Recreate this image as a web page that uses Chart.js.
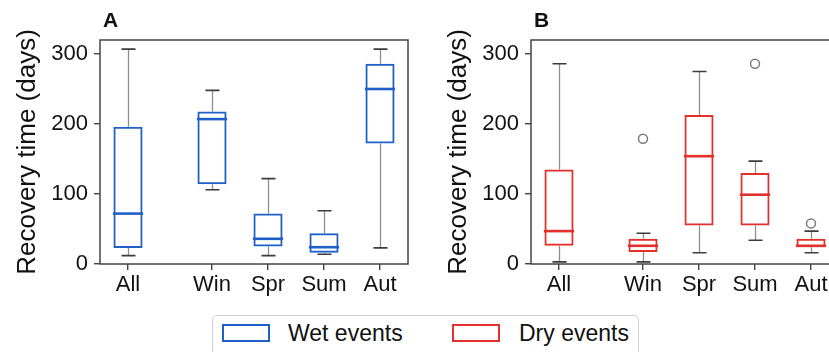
<!DOCTYPE html>
<html><head><meta charset="utf-8">
<script src="https://cdn.jsdelivr.net/npm/chart.js@4.4.0/dist/chart.umd.min.js"></script>
<style>
html,body{margin:0;padding:0;width:829px;height:352px;overflow:hidden;background:#fff;font-family:"Liberation Sans",Arial,sans-serif;}
.wrap{position:absolute;top:0;width:420px;height:300px;}
#wrapA{left:0;}
#wrapB{left:431px;}
.letter{position:absolute;top:8px;font-weight:bold;font-size:21px;color:#111;}
#legend{position:absolute;left:212px;top:315px;width:427px;height:50px;border:1px solid #cfcfcf;border-radius:5px;box-sizing:border-box;}
.sw{position:absolute;top:8px;width:48px;height:18px;box-sizing:border-box;border:2px solid;}
.lt{position:absolute;top:4px;font-size:23px;color:#111;line-height:26px;}
</style></head>
<body>
<div class="wrap" id="wrapA"><canvas id="cA" width="420" height="300"></canvas></div>
<div class="wrap" id="wrapB"><canvas id="cB" width="420" height="300"></canvas></div>
<div class="letter" style="left:103px;">A</div>
<div class="letter" style="left:534px;">B</div>
<div id="legend">
  <div class="sw" style="left:9px;border-color:#1f5fc8;"></div>
  <div class="lt" style="left:75px;">Wet events</div>
  <div class="sw" style="left:239px;border-color:#e2312a;"></div>
  <div class="lt" style="left:306px;">Dry events</div>
</div>
<script>
// ---- data ----
const categories = ['All', 'Win', 'Spr', 'Sum', 'Aut'];
const yTicks = [0, 100, 200, 300];

const wetWhiskerLow  = [12, 106, 12, 14, 23];
const wetQ1          = [23, 114, 25, 16, 172];
const wetMedian      = [72, 207, 36, 24, 250];
const wetQ3          = [196, 218, 72, 44, 286];
const wetWhiskerHigh = [307, 248, 122, 76, 307];
const wetOutliers    = [[], [], [], [], []];

const dryWhiskerLow  = [3, 3, 16, 34, 16];
const dryQ1          = [26, 17, 55, 55, 24];
const dryMedian      = [47, 26, 154, 99, 26];
const dryQ3          = [135, 36, 213, 130, 36];
const dryWhiskerHigh = [286, 44, 275, 147, 47];
const dryOutliers    = [[], [179], [], [286], [58]];

// ---- layout (slot positions on the x axis, with a gap after "All") ----
const xSlots = [0, 1.5, 2.5, 3.5, 4.5];

Chart.defaults.font.family = '"Liberation Sans", Arial, sans-serif';
Chart.defaults.color = '#111';

function makeChart(id, color, low, q1, med, q3, high, outl) {
  const boxData = xSlots.map((x, i) => ({x: x, y: [q1[i], q3[i]]}));
  const outData = [];
  outl.forEach((arr, i) => arr.forEach(v => outData.push({x: xSlots[i], y: v})));

  const boxPlugin = {
    id: 'boxparts',
    beforeDatasetsDraw(chart) {
      const ctx = chart.ctx, xs = chart.scales.x, ys = chart.scales.y;
      ctx.save();
      xSlots.forEach((xv, i) => {
        const px = Math.round(xs.getPixelForValue(xv)) + 0.5;
        const capHalf = xs.getPixelForValue(xv + 0.125) - xs.getPixelForValue(xv);
        ctx.strokeStyle = '#8e8e8e'; ctx.lineWidth = 1.3;
        ctx.beginPath();
        ctx.moveTo(px, ys.getPixelForValue(q3[i])); ctx.lineTo(px, ys.getPixelForValue(high[i]));
        ctx.moveTo(px, ys.getPixelForValue(q1[i])); ctx.lineTo(px, ys.getPixelForValue(low[i]));
        ctx.stroke();
        ctx.strokeStyle = '#3c3c3c'; ctx.lineWidth = 1.6;
        ctx.beginPath();
        const yh = ys.getPixelForValue(high[i]), yl = ys.getPixelForValue(low[i]);
        ctx.moveTo(px - capHalf, yh); ctx.lineTo(px + capHalf, yh);
        ctx.moveTo(px - capHalf, yl); ctx.lineTo(px + capHalf, yl);
        ctx.stroke();
      });
      ctx.restore();
    },
    afterDatasetsDraw(chart) {
      const ctx = chart.ctx, xs = chart.scales.x, ys = chart.scales.y;
      ctx.save();
      xSlots.forEach((xv, i) => {
        const px = xs.getPixelForValue(xv);
        const half = xs.getPixelForValue(xv + 0.27) - px;
        const ym = ys.getPixelForValue(med[i]);
        ctx.strokeStyle = color; ctx.lineWidth = 2.6;
        ctx.beginPath(); ctx.moveTo(px - half, ym); ctx.lineTo(px + half, ym); ctx.stroke();
      });
      const a = chart.chartArea;
      ctx.strokeStyle = '#444'; ctx.lineWidth = 1.5;
      ctx.strokeRect(a.left, a.top, a.right - a.left, a.bottom - a.top);
      ctx.restore();
    }
  };

  return new Chart(document.getElementById(id), {
    type: 'bar',
    data: {
      datasets: [
        {
          type: 'bar', data: boxData, backgroundColor: 'rgba(0,0,0,0)',
          borderColor: color, borderWidth: 2, borderSkipped: false,
          categoryPercentage: 1.0, barPercentage: 0.52, grouped: false
        },
        {
          type: 'scatter', data: outData, pointStyle: 'circle', pointRadius: 4.5,
          backgroundColor: 'rgba(0,0,0,0)', borderColor: '#7a7a7a', borderWidth: 1.5
        }
      ]
    },
    options: {
      responsive: false, animation: false,
      layout: {padding: {top: 40, right: 12, left: 0, bottom: 0}},
      plugins: {legend: {display: false}, tooltip: {enabled: false}},
      scales: {
        x: {
          type: 'linear', min: -0.5, max: 5.0, offset: false,
          afterBuildTicks: s => { s.ticks = xSlots.map(v => ({value: v})); },
          afterFit: s => { s.height = 36; },
          ticks: {
            autoSkip: false, maxRotation: 0, padding: 2,
            font: {size: 22}, color: '#111',
            callback: (v) => categories[xSlots.indexOf(v)]
          },
          grid: {display: true, offset: false, drawOnChartArea: false, drawTicks: true, tickLength: 6, color: '#444', lineWidth: 1.4},
          border: {display: false}
        },
        y: {
          type: 'linear', min: 0, max: 320,
          afterBuildTicks: s => { s.ticks = yTicks.map(v => ({value: v})); },
          afterFit: s => { s.width = 100; },
          ticks: {padding: 6, font: {size: 22}, color: '#111'},
          grid: {display: true, offset: false, drawOnChartArea: false, drawTicks: true, tickLength: 6, color: '#444', lineWidth: 1.4},
          border: {display: false},
          title: {display: true, text: 'Recovery time (days)', font: {size: 26}, color: '#111', padding: {top: 12, bottom: 0}}
        }
      }
    },
    plugins: [boxPlugin]
  });
}

makeChart('cA', '#1f5fc8', wetWhiskerLow, wetQ1, wetMedian, wetQ3, wetWhiskerHigh, wetOutliers);
makeChart('cB', '#e2312a', dryWhiskerLow, dryQ1, dryMedian, dryQ3, dryWhiskerHigh, dryOutliers);
</script>
</body></html>
